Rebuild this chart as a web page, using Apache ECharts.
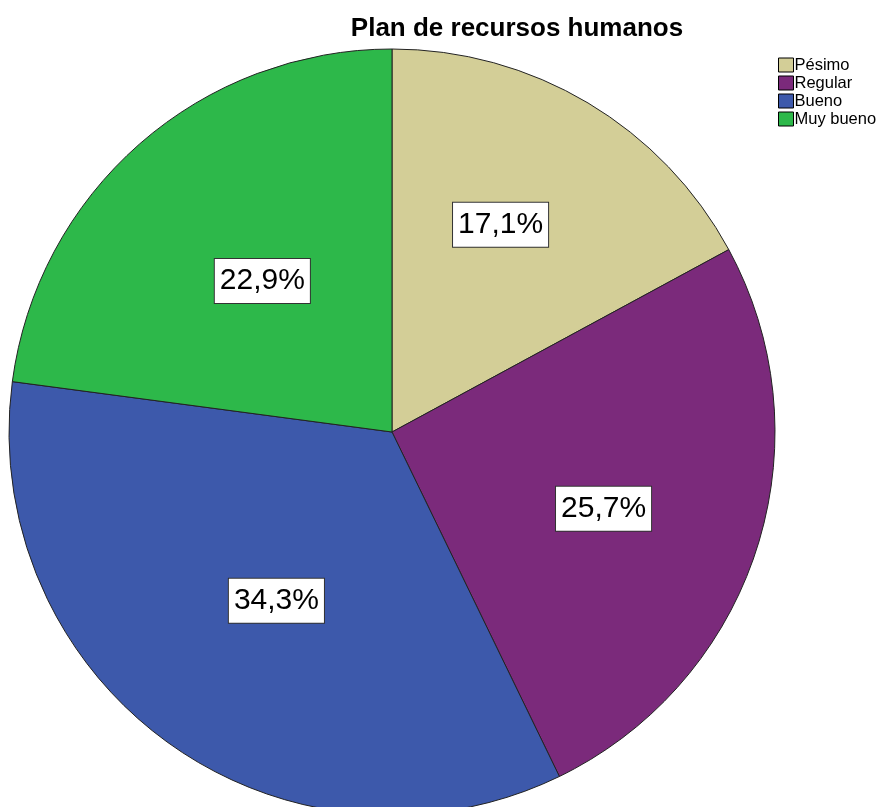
<!DOCTYPE html>
<html>
<head>
<meta charset="utf-8">
<script src="https://cdn.jsdelivr.net/npm/echarts@6/dist/echarts.min.js"></script>
<style>
  html, body { margin: 0; padding: 0; background: #fff; }
  #chart { width: 889px; height: 807px; }
</style>
</head>
<body>
<div id="chart"></div>
<script>
// datos del gráfico
const categorias = ['Pésimo', 'Regular', 'Bueno', 'Muy bueno'];
const porcentajes = [17.1, 25.7, 34.3, 22.9];
const colores = ['#d3ce97', '#7b2a7b', '#3d59ab', '#2db84a'];

const chart = echarts.init(document.getElementById('chart'));

const datos = categorias.map(function (c, i) {
  return { name: c, value: porcentajes[i], itemStyle: { color: colores[i] } };
});

// pequeños ajustes de la posición de las etiquetas (px)
const ajustes = [[-3, -20], [4, 10], [12, -8], [14, 13]];

chart.setOption({
  animation: false,
  title: {
    text: 'Plan de recursos humanos',
    left: 512, top: 11, textAlign: 'center',
    textStyle: { fontFamily: 'Liberation Sans', fontSize: 26, fontWeight: 'bold', color: '#000' }
  },
  legend: {
    orient: 'vertical', left: 773, top: 51,
    icon: 'rect', itemWidth: 15, itemHeight: 14, itemGap: 0,
    data: categorias,
    textStyle: { fontFamily: 'Liberation Sans', fontSize: 16.5, lineHeight: 18, color: '#000', padding: [0, 0, 0, -4] },
    itemStyle: { borderColor: '#000', borderWidth: 1 }
  },
  series: [
    {
      type: 'pie',
      center: [392, 432], radius: 383,
      startAngle: 90, clockwise: true,
      data: datos,
      itemStyle: { borderColor: '#222', borderWidth: 1 },
      label: { show: false },
      labelLine: { show: false },
      emphasis: { disabled: true }
    },
    {
      // capa transparente solo para las etiquetas
      type: 'pie',
      center: [392, 432], radius: [47, 383],
      startAngle: 90, clockwise: true, silent: true,
      data: datos.map(function (d, i) {
        return { name: d.name, value: d.value, label: { offset: ajustes[i] } };
      }),
      itemStyle: { color: 'rgba(0,0,0,0)' },
      label: {
        show: true, position: 'inside',
        formatter: function (p) { return p.value.toFixed(1).replace('.', ',') + '%'; },
        fontFamily: 'Liberation Sans', fontSize: 30, color: '#000',
        backgroundColor: '#fff', borderColor: '#333', borderWidth: 1,
        padding: [8, 5, 6, 5]
      },
      labelLine: { show: false },
      emphasis: { disabled: true }
    }
  ]
});
</script>
</body>
</html>
